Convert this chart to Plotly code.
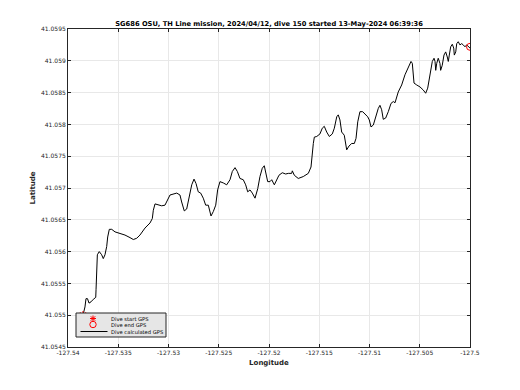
import plotly.graph_objects as go

# Dive calculated GPS track (longitude, latitude)
lon = [-127.53851, -127.53831, -127.53821, -127.53806, -127.53791, -127.53771, -127.53748, -127.53724,
       -127.53721, -127.53714, -127.53708, -127.53689, -127.53665, -127.53649, -127.53632, -127.53615,
       -127.53605, -127.53589, -127.53565, -127.53532, -127.53483, -127.53433, -127.53383, -127.53350,
       -127.53316, -127.53284, -127.53234, -127.53184, -127.53161, -127.53151, -127.53134, -127.53102,
       -127.53068, -127.53035, -127.53008, -127.52985, -127.52918, -127.52886, -127.52869, -127.52843,
       -127.52819, -127.52796, -127.52769, -127.52746, -127.52726, -127.52704, -127.52680, -127.52654,
       -127.52630, -127.52604, -127.52590, -127.52577, -127.52554, -127.52530, -127.52511, -127.52488,
       -127.52455, -127.52421, -127.52388, -127.52365, -127.52338, -127.52315, -127.52289, -127.52256,
       -127.52232, -127.52212, -127.52189, -127.52166, -127.52139, -127.52112, -127.52090, -127.52067,
       -127.52047, -127.52033, -127.52013, -127.51990, -127.51973, -127.51947, -127.51923, -127.51901,
       -127.51868, -127.51834, -127.51808, -127.51774, -127.51768, -127.51748, -127.51709, -127.51659,
       -127.51609, -127.51582, -127.51559, -127.51549, -127.51525, -127.51493, -127.51470, -127.51450,
       -127.51426, -127.51400, -127.51370, -127.51350, -127.51326, -127.51311, -127.51294, -127.51277,
       -127.51251, -127.51237, -127.51227, -127.51204, -127.51177, -127.51151, -127.51134, -127.51117,
       -127.51095, -127.51068, -127.51045, -127.51018, -127.51002, -127.50985, -127.50962, -127.50938,
       -127.50913, -127.50896, -127.50879, -127.50863, -127.50839, -127.50813, -127.50786, -127.50763,
       -127.50746, -127.50714, -127.50680, -127.50647, -127.50614, -127.50587, -127.50574, -127.50564,
       -127.50557, -127.50530, -127.50498, -127.50465, -127.50441, -127.50421, -127.50405, -127.50388,
       -127.50375, -127.50358, -127.50348, -127.50341, -127.50331, -127.50316, -127.50299, -127.50292,
       -127.50276, -127.50259, -127.50242, -127.50226, -127.50216, -127.50206, -127.50192, -127.50176,
       -127.50162, -127.50156, -127.50142, -127.50132, -127.50117, -127.50100, -127.50083, -127.50067,
       -127.50050, -127.50033, -127.50017, -127.50000]
lat = [41.05500, 41.05513, 41.05526, 41.05526, 41.05519, 41.05521, 41.05525, 41.05528,
       41.05540, 41.05576, 41.05595, 41.05600, 41.05595, 41.05589, 41.05595, 41.05608,
       41.05623, 41.05635, 41.05635, 41.05631, 41.05629, 41.05626, 41.05622, 41.05619,
       41.05621, 41.05626, 41.05637, 41.05645, 41.05652, 41.05665, 41.05675, 41.05673,
       41.05672, 41.05673, 41.05681, 41.05689, 41.05692, 41.05689, 41.05678, 41.05664,
       41.05667, 41.05684, 41.05705, 41.05714, 41.05707, 41.05694, 41.05692, 41.05684,
       41.05673, 41.05673, 41.05665, 41.05656, 41.05663, 41.05673, 41.05697, 41.05710,
       41.05708, 41.05705, 41.05713, 41.05726, 41.05732, 41.05726, 41.05715, 41.05713,
       41.05705, 41.05694, 41.05697, 41.05692, 41.05684, 41.05699, 41.05718, 41.05731,
       41.05735, 41.05723, 41.05710, 41.05710, 41.05713, 41.05705, 41.05714, 41.05720,
       41.05724, 41.05722, 41.05723, 41.05723, 41.05727, 41.05720, 41.05715, 41.05718,
       41.05723, 41.05733, 41.05770, 41.05780, 41.05781, 41.05785, 41.05794, 41.05797,
       41.05788, 41.05781, 41.05785, 41.05794, 41.05812, 41.05815, 41.05807, 41.05788,
       41.05783, 41.05771, 41.05760, 41.05766, 41.05770, 41.05770, 41.05778, 41.05804,
       41.05820, 41.05820, 41.05817, 41.05812, 41.05807, 41.05796, 41.05799, 41.05812,
       41.05825, 41.05830, 41.05823, 41.05808, 41.05810, 41.05820, 41.05833, 41.05836,
       41.05834, 41.05851, 41.05862, 41.05878, 41.05891, 41.05899, 41.05896, 41.05880,
       41.05865, 41.05862, 41.05859, 41.05854, 41.05849, 41.05857, 41.05870, 41.05888,
       41.05899, 41.05904, 41.05899, 41.05885, 41.05896, 41.05904, 41.05896, 41.05885,
       41.05893, 41.05909, 41.05914, 41.05906, 41.05899, 41.05909, 41.05922, 41.05926,
       41.05920, 41.05909, 41.05914, 41.05927, 41.05930, 41.05925, 41.05927, 41.05925,
       41.05922, 41.05925, 41.05922, 41.05920]

start_lon, start_lat = [-127.53851], [41.05500]
end_lon, end_lat = [-127.50000], [41.05922]

x_ticks = [-127.54, -127.535, -127.53, -127.525, -127.52, -127.515, -127.51, -127.505, -127.5]
x_labels = ["-127.54", "-127.535", "-127.53", "-127.525", "-127.52", "-127.515", "-127.51", "-127.505", "-127.5"]
y_ticks = [41.0545, 41.055, 41.0555, 41.056, 41.0565, 41.057, 41.0575, 41.058, 41.0585, 41.059, 41.0595]
y_labels = ["41.0545", "41.055", "41.0555", "41.056", "41.0565", "41.057", "41.0575", "41.058", "41.0585", "41.059", "41.0595"]

legend_labels = ["Dive start GPS", "Dive end GPS", "Dive calculated GPS"]

title = "SG686 OSU, TH Line mission, 2024/04/12, dive 150 started 13-May-2024 06:39:36"

FONT = "DejaVu Sans"
AX = "#262626"

fig = go.Figure()
fig.add_trace(go.Scatter(x=lon, y=lat, mode="lines", name=legend_labels[2],
                         line=dict(color="black", width=1), showlegend=False))
fig.add_trace(go.Scatter(x=start_lon, y=start_lat, mode="markers", name=legend_labels[0],
                         marker=dict(symbol="asterisk-open", size=7, color="red",
                                     line=dict(color="red", width=1)), showlegend=False))
fig.add_trace(go.Scatter(x=end_lon, y=end_lat, mode="markers", name=legend_labels[1],
                         marker=dict(symbol="circle-open", size=7, color="red",
                                     line=dict(color="red", width=1)), showlegend=False))

axis_common = dict(showgrid=True, gridcolor="#e8e8e8", gridwidth=1, zeroline=False,
                   showline=True, linecolor=AX, linewidth=1, mirror="ticks",
                   ticks="inside", ticklen=3, tickcolor=AX, tickmode="array",
                   tickfont=dict(family=FONT, size=6, color=AX))

# ---- compact MATLAB-style legend (layout decoration in paper coordinates) ----
W, H = 402.0, 318.0          # plot-area size in px
def px(xp):  # plot-area pixel offset -> paper x
    return xp / W
def py(yp):  # pixel offset from bottom of plot area -> paper y
    return yp / H

box = dict(x0=px(8), x1=px(98), y0=py(10), y1=py(34))
row_y = [py(28.5), py(22.5), py(15.5)]
glyph_x = px(25)
text_x = px(41)

shapes = [dict(type="rect", xref="paper", yref="paper", **box,
               fillcolor="#e6e6e6", line=dict(color=AX, width=1), layer="above")]
# asterisk glyph
shapes.append(dict(type="path", xref="paper", yref="paper", xsizemode="pixel", ysizemode="pixel",
                   xanchor=glyph_x, yanchor=row_y[0],
                   path="M-3,0L3,0M0,-3L0,3M-2.2,-2.2L2.2,2.2M-2.2,2.2L2.2,-2.2",
                   line=dict(color="red", width=1), layer="above"))
# circle glyph
shapes.append(dict(type="circle", xref="paper", yref="paper", xsizemode="pixel", ysizemode="pixel",
                   xanchor=glyph_x, yanchor=row_y[1], x0=-3.2, x1=3.2, y0=-3.2, y1=3.2,
                   line=dict(color="red", width=1), layer="above"))
# line glyph
shapes.append(dict(type="line", xref="paper", yref="paper", x0=px(12.5), x1=px(39.5),
                   y0=row_y[2], y1=row_y[2], line=dict(color="black", width=1), layer="above"))

annotations = [dict(text=t, xref="paper", yref="paper", x=text_x, y=yy,
                    xanchor="left", yanchor="middle", showarrow=False,
                    font=dict(family=FONT, size=5.2, color="black"))
               for t, yy in zip(legend_labels, row_y)]

fig.update_layout(
    width=520, height=390,
    margin=dict(l=68, r=50, t=29, b=43),
    paper_bgcolor="white", plot_bgcolor="white",
    title=dict(text="<b>" + title + "</b>", x=0.5175, xanchor="center", y=0.94, yanchor="middle",
               font=dict(family=FONT, size=6.7, color="black")),
    xaxis=dict(range=[-127.54, -127.5], tickvals=x_ticks, ticktext=x_labels,
               title=dict(text="<b>Longitude</b>", font=dict(family=FONT, size=7, color=AX), standoff=4),
               **axis_common),
    yaxis=dict(range=[41.0545, 41.0595], tickvals=y_ticks, ticktext=y_labels,
               title=dict(text="<b>Latitude</b>", font=dict(family=FONT, size=7, color=AX), standoff=4),
               **axis_common),
    shapes=shapes,
    annotations=annotations,
    showlegend=False,
)

fig.write_html("out.html")
